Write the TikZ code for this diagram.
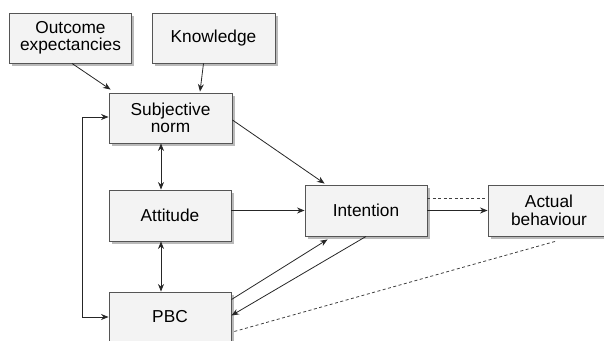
\documentclass[tikz,border=0pt]{standalone}
\usepackage{fontspec}
\setmainfont{Liberation Sans}
\usetikzlibrary{arrows.meta,shadows}
\definecolor{boxfill}{HTML}{F3F3F3}
\definecolor{boxline}{HTML}{555555}
\definecolor{linkline}{HTML}{262626}
\tikzset{%
    factor/.style={%
        draw=boxline, fill=boxfill, line width=0.9pt,
        minimum width=122pt, minimum height=50pt,
        align=center, inner sep=2pt, text=black,
        font=\fontsize{17.3}{17.5}\selectfont,
        drop shadow={shadow xshift=2.5pt, shadow yshift=-2.5pt,
            fill=black!45, opacity=0.6}
    },
    link/.style={draw=linkline, line width=0.8pt,
        -{Stealth[length=7.5pt,width=6pt]}},
    twoway/.style={link, {Stealth[length=7.5pt,width=6pt]}-{Stealth[length=7.5pt,width=6pt]}},
    dashlink/.style={draw=black!75, line width=0.8pt, dash pattern=on 3pt off 2.5pt}
}

\begin{document}
\begin{tikzpicture}[x=1pt, y=-1pt]
\useasboundingbox (0,0) rectangle (604,340);
    % boxes
    \node[factor] (outcome) at (70.5,38) {Outcome\\expectancies};
    \node[factor, minimum width=123pt] (knowledge) at (213.5,38) {Knowledge};
    \node[factor, minimum width=123pt] (subjnorm) at (170.5,118) {Subjective\\norm};
    \node[factor, minimum height=51pt] (attitude) at (170,215.5) {Attitude};
    \node[factor] (pbc) at (170,317) {PBC};
    \node[factor, minimum height=51pt] (intention) at (366,210.5) {Intention};
    \node[factor, minimum height=51pt] (actual) at (549,210.5) {Actual\\behaviour};
    % connectors
    \draw[link] ([xshift=1.5pt]outcome.south) -- ([shift={(2,-3)}]subjnorm.north west);
    \draw[link] ([xshift=-10pt]knowledge.south) -- ([shift={(29.5,-1)}]subjnorm.north);
    \draw[twoway] ([xshift=-9.5pt]subjnorm.south) -- ([xshift=-9pt]attitude.north);
    \draw[twoway] ([xshift=-9pt]attitude.south) -- ([xshift=-9pt]pbc.north);
    \draw[twoway] ([yshift=1pt]subjnorm.west) -- ++(-26.5,0) |- (pbc.west);
    \draw[link] ([yshift=-2pt]subjnorm.east) -- ([shift={(20,-1)}]intention.north west);
    \draw[link] (attitude.east |- intention.west) -- (intention.west);
    \draw[link] ([yshift=-8pt]pbc.north east) -- ([shift={(23,3)}]intention.south west);
    \draw[link] (intention.south) -- ([yshift=1.5pt]pbc.east);
    \draw[link] (intention.east) -- (actual.west);
    \draw[dashlink] ([yshift=12.5pt]intention.east) -- ([yshift=12.5pt]actual.west);
    \draw[dashlink] ([shift={(6,5)}]actual.south) -- ([shift={(1,15)}]pbc.east);
\end{tikzpicture}
\end{document}
